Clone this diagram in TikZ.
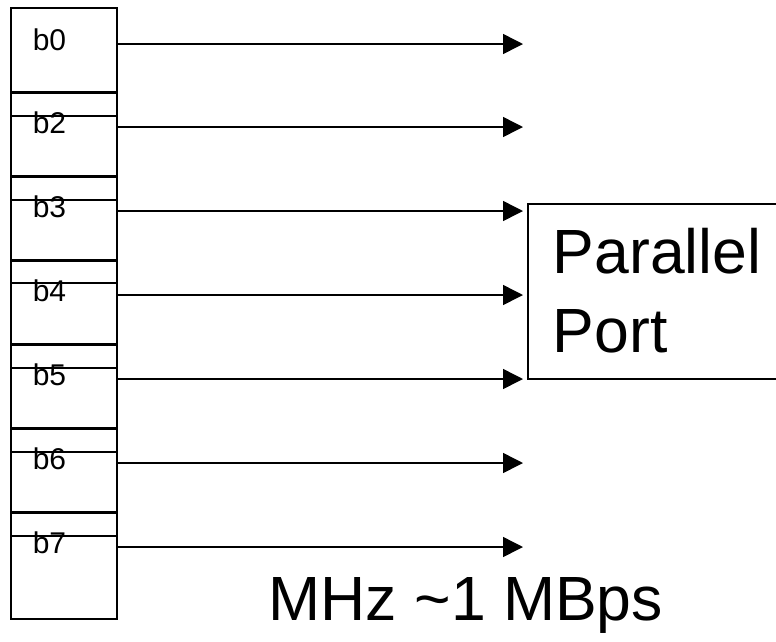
\documentclass[tikz,border=0pt]{standalone}
\usepackage{fontspec}
\setmainfont{Liberation Sans}
\usetikzlibrary{arrows.meta}
\begin{document}
\begin{tikzpicture}[x=1pt,y=-1pt,
  line width=1.5pt,
  cellbox/.style={draw, line width=1.5pt},
  blabel/.style={anchor=base west, inner sep=0pt, font=\fontsize{30}{30}\selectfont},
  sig/.style={-{Triangle[length=20pt,width=20pt]}, line width=1.5pt},
  bigtext/.style={inner sep=0pt, font=\fontsize{62.5}{62.5}\selectfont}]
\useasboundingbox (0,0) rectangle (776,641);
\begin{scope}
\clip (0,0) rectangle (776,641);
% column frame
\draw[cellbox] (11,8) rectangle (117,619);
\draw[cellbox] (11,92) -- (117,92);
\draw[cellbox] (11,175.5) -- (117,175.5);
\draw[cellbox] (11,259.5) -- (117,259.5);
\draw[cellbox] (11,344) -- (117,344);
\draw[cellbox] (11,428) -- (117,428);
\draw[cellbox] (11,512) -- (117,512);
% small label boxes
\draw[cellbox] (11,93) rectangle (117,116);
\draw[cellbox] (11,177) rectangle (117,200);
\draw[cellbox] (11,261) rectangle (117,283);
\draw[cellbox] (11,345) rectangle (117,368);
\draw[cellbox] (11,429) rectangle (117,452);
\draw[cellbox] (11,513) rectangle (117,536);
% labels
\node[blabel] (l0) at (32,50) {b0};
\node[blabel] (l2) at (32,133) {b2};
\node[blabel] (l3) at (32,217) {b3};
\node[blabel] (l4) at (32,301) {b4};
\node[blabel] (l5) at (32,385) {b5};
\node[blabel] (l6) at (32,469) {b6};
\node[blabel] (l7) at (32,553) {b7};
% coordinates
\foreach \n/\y in {0/44,2/127,3/211,4/295,5/379,6/463,7/547}{
  \coordinate (s\n) at (117,\y);
  \coordinate (e\n) at (523,\y);
}
\foreach \n in {0,2,3,4,5,6,7}{
  \draw[sig] (s\n) -- (e\n);
}
% parallel port box
\draw[cellbox] (528,204) rectangle (800,379);
\node[bigtext, anchor=base west] (par) at (552,273) {Parallel};
\node[bigtext, anchor=base west] (port) at (552,352) {Port};
\node[bigtext, anchor=base west] (speed) at (268,620) {MHz \textasciitilde1 MBps};
\end{scope}
\end{tikzpicture}
\end{document}
